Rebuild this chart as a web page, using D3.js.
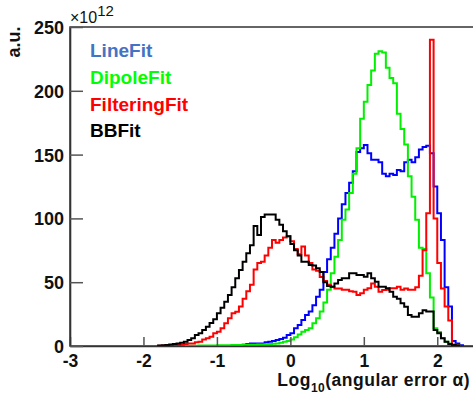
<!DOCTYPE html>
<html><head><meta charset="utf-8">
<script src="https://cdn.jsdelivr.net/npm/d3@7"></script>
<style>
html,body{margin:0;padding:0;background:#fff;}
svg{display:block;}
text{font-family:"Liberation Sans",Arial,Helvetica,sans-serif;}
</style></head><body>
<svg id="c" width="473" height="396"></svg>
<script>
// Histogram bins: lower edge of first bin and bin width (log10 of angular error)
const binLow = -1.8;
const binWidth = 0.05;
// Bin contents (units of 1e12), one entry per bin from -1.8 to 2.5
const lineFit = [
  0,0,0,0,0,0,0,0,0,0,
  0,0,0,0,0,0,0,0,0,0,
  0.2,0.3,0.5,1,1.5,2,2,2,2,3,
  3.4,4,4.7,5.5,6.5,8.6,10,13.9,16.5,20.4,
  24.3,27,32,38.6,44,58,68,77,88,100,
  111,120,128,137,152,155,157.5,151,146,146,
  144,135,133,135,134,138,137,144,146,144,
  148,154,156,157,151,125,104,83,46,31,
  4,2,0.5,0,0,0];
const dipoleFit = [
  0,0,0,0,0,0.1,0.1,0.1,0.2,0.2,
  0.2,0.3,0.3,0.3,0.4,0.4,0.5,0.5,0.6,0.6,
  0.7,0.8,0.8,0.9,1,1,1,1.1,1.2,1.3,
  1.5,1.8,2,2.5,3.4,4,5,6.8,9,11.2,
  12.5,14,17.8,21.7,27,34,44,57,70,83,
  99,107,120,135,155,178,191.5,204.5,216,229,
  231,230,218,210,206,182,170,158,133,117,
  99,77,76,57,38,14,11,6,3.4,2,
  1,0.5,0,0,0,0];
const filteringFit = [
  0.1,0.2,0.3,0.5,0.7,0.8,1,1.5,2,2,
  3,3.4,5,6,7.3,10,11.2,13.9,17.8,21.7,
  25.6,26.9,31,37,43,48,60,65,66,71,
  77,83,81,83,85,86,82,76,72,78,
  71,65,60,59,54,51,48,46.5,45,45,
  44,44,43,42.6,40,41.3,44,45.2,49,46.5,
  42.6,43.9,44,45.2,45.2,46.5,44,45,44,44,
  46,55,75,104,240,100,65,45,31,20,
  1,0.3,0,0,0,0];
const bbFit = [
  0.3,0.5,0.8,1.2,1.5,2,2.6,3.4,4.7,6,
  8.6,10,12.5,15,18,21,25.6,30,34.7,40,
  46,53,59.6,66,72.6,79,94,87,101,103,
  103,103,99,95,90,86,80,75,71,66,
  66,63.5,63,61,58,50,47,46.5,49,51.7,
  53,53,57,57,55.6,55.6,54.3,57,53,50.4,
  46.5,46.5,45.2,42.6,38.6,37,33.5,30.8,24.3,23,
  23,25.6,28,27,27,12.5,10,6,3.4,1.5,
  0.7,0.3,0,0,0,0];

const seriesNames = ["LineFit","DipoleFit","FilteringFit","BBFit"];
const xTickValues = [-3,-2,-1,0,1,2];
const yTickValues = [0,50,100,150,200,250];

const svg = d3.select("#c");
const x = d3.scaleLinear().domain([-3, 2.5]).range([70, 474]);
const y = d3.scaleLinear().domain([0, 250]).range([346, 27]);

const lineColors = {LineFit:"#0000ff", DipoleFit:"#00f000", FilteringFit:"#ff0000", BBFit:"#000000"};
const textColors = {LineFit:"#4472c4", DipoleFit:"#00ff00", FilteringFit:"#ff0000", BBFit:"#000000"};
const dataBy = {LineFit:lineFit, DipoleFit:dipoleFit, FilteringFit:filteringFit, BBFit:bbFit};

// frame
svg.append("rect").attr("x", x(-3)).attr("y", y(250))
  .attr("width", x(2.5)-x(-3)).attr("height", y(0)-y(250))
  .attr("fill","none").attr("stroke","#333").attr("stroke-width",1.5);

// histograms
function histPts(vals){
  let first = vals.findIndex(v => v > 0);
  let last = vals.length - 1 - [...vals].reverse().findIndex(v => v > 0);
  const pts = [[x(binLow + first*binWidth), y(0)]];
  for (let i = first; i <= last; i++){
    const lo = binLow + i*binWidth, hi = lo + binWidth;
    pts.push([x(lo), y(vals[i])]);
    pts.push([x(hi), y(vals[i])]);
  }
  pts.push([x(binLow + (last+1)*binWidth), y(0)]);
  return pts;
}
const line = d3.line();
const g = svg.append("g");
["LineFit","DipoleFit","FilteringFit","BBFit"].forEach(name => {
  g.append("path").attr("d", line(histPts(dataBy[name])))
    .attr("fill","none").attr("stroke", lineColors[name])
    .attr("stroke-width", 2).attr("stroke-linejoin","miter");
});

// axes
const xMinor = d3.range(-30, 25, 2).map(d => d/10).filter(d => Math.abs(d - Math.round(d)) > 1e-6);
const yMinor = d3.range(0, 251, 10).filter(d => d % 50 !== 0);
const fmt = d => String(d);

const xa = svg.append("g").attr("transform", `translate(0,${y(0)})`);
xa.call(d3.axisBottom(x).tickValues(xMinor).tickSizeInner(-5).tickSizeOuter(0).tickFormat(""));
xa.call(d3.axisBottom(x).tickValues(xTickValues).tickSizeInner(-9).tickSizeOuter(0).tickFormat(fmt));
xa.selectAll(".domain").attr("stroke","#333").attr("stroke-width",1.6);
xa.selectAll(".tick line").attr("stroke","#555").attr("stroke-width",1.5);
xa.selectAll(".tick text").attr("y", 21).attr("dy", "0")
  .attr("font-size", 17.5).attr("font-weight","bold").attr("fill","#111")
  .style("font-family",'"Liberation Sans",Arial,sans-serif');

const ya = svg.append("g").attr("transform", `translate(${x(-3)},0)`);
ya.call(d3.axisLeft(y).tickValues(yMinor).tickSizeInner(-7).tickSizeOuter(0).tickFormat(""));
ya.call(d3.axisLeft(y).tickValues(yTickValues).tickSizeInner(-13).tickSizeOuter(0).tickFormat(fmt));
ya.selectAll(".domain").attr("stroke","#333").attr("stroke-width",1.6);
ya.selectAll(".tick line").attr("stroke","#555").attr("stroke-width",1.5);
ya.selectAll(".tick text").attr("x", -6).attr("dy", "0.36em")
  .attr("font-size", 18).attr("font-weight","bold").attr("fill","#111")
  .style("font-family",'"Liberation Sans",Arial,sans-serif');

// exponent label
const ex = svg.append("text").attr("x", 70).attr("y", 23)
  .attr("font-size", 16).attr("fill","#111");
ex.append("tspan").text("\u00d710");
ex.append("tspan").attr("dy", -7).attr("font-size", 15).text("12");

// y title
svg.append("text").attr("transform","translate(20,42) rotate(-90)")
  .attr("text-anchor","middle").attr("font-size",18).attr("font-weight","bold")
  .attr("fill","#111").text("a.u.");

// x title
const xt = svg.append("text").attr("x", 470).attr("y", 386)
  .attr("text-anchor","end").attr("font-size",17.5).attr("font-weight","bold")
  .attr("letter-spacing", 0.5).attr("fill","#111");
xt.append("tspan").text("Log");
xt.append("tspan").attr("dy", 6).attr("font-size", 12).text("10");
xt.append("tspan").attr("dy", -6).text("(angular error \u03b1)");

// legend
const legBase = [57, 84, 111, 137];
seriesNames.forEach((name, i) => {
  svg.append("text").attr("x", 90).attr("y", legBase[i])
    .attr("font-size", 19).attr("font-weight","bold")
    .attr("fill", textColors[name]).text(name);
});
</script>
</body></html>
